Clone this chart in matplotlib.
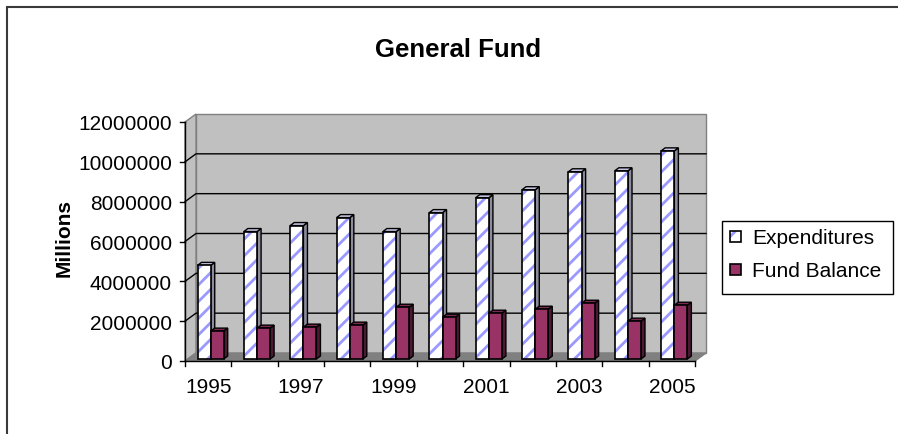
import matplotlib
matplotlib.use("Agg")
import matplotlib.pyplot as plt
from matplotlib.patches import Polygon, Rectangle
from matplotlib.lines import Line2D
from matplotlib.transforms import IdentityTransform, Affine2D

plt.rcParams['font.family'] = ['Liberation Sans', 'DejaVu Sans']
plt.rcParams['hatch.linewidth'] = 2.0

# dane wykresu
years = ['1995', '1996', '1997', '1998', '1999', '2000', '2001', '2002', '2003', '2004', '2005']
tick_labels = ['1995', '', '1997', '', '1999', '', '2001', '', '2003', '', '2005']
expenditures = [4700000, 6400000, 6700000, 7100000, 6400000, 7350000, 8100000, 8500000, 9400000, 9450000, 10450000]
fund_balance = [1400000, 1550000, 1600000, 1700000, 2600000, 2100000, 2300000, 2500000, 2800000, 1900000, 2700000]
y_ticks = [0, 2000000, 4000000, 6000000, 8000000, 10000000, 12000000]

W, H = 898, 435
fig = plt.figure(figsize=(W / 100, H / 100), dpi=100)
fig.patch.set_facecolor('white')
ax = fig.add_axes([185 / W, (H - 362) / H, 510 / W, 239 / H])
ax.set_autoscale_on(False)
ax.set_xlim(0, len(years))
ax.set_ylim(0, y_ticks[-1])
ax.axis('off')

WALL = (11, 8)  # przesuniecie tylnej sciany (piksele)
BAR = (4, 3)    # glebokosc slupka
LIFT = 2        # slupki stoja troche za przednia krawedzia podlogi

n = len(years)
top = y_ticks[-1]


def px(x, y, dx=0, dy=0):
    X, Y = ax.transData.transform((x, y))
    return (X + dx, Y + dy)


def shape(points, **kw):
    p = Polygon(points, closed=True, transform=IdentityTransform(), clip_on=False, **kw)
    ax.add_patch(p)
    return p


def line(points, **kw):
    xs, ys = zip(*points)
    ax.add_line(Line2D(xs, ys, transform=IdentityTransform(), clip_on=False, **kw))


# sciany i podloga
shape([px(0, 0, *WALL), px(n, 0, *WALL), px(n, top, *WALL), px(0, top, *WALL)],
      fc='#C0C0C0', ec='#808080', lw=1, zorder=1)
shape([px(0, 0), px(0, 0, *WALL), px(0, top, *WALL), px(0, top)],
      fc='#C0C0C0', ec='#808080', lw=1, zorder=1)
shape([px(0, 0), px(n, 0), px(n, 0, *WALL), px(0, 0, *WALL)],
      fc='#808080', ec='#808080', lw=1, zorder=1)
for v in y_ticks[1:-1]:
    line([px(0, v), px(0, v, *WALL), px(n, v, *WALL)], color='black', lw=1, zorder=2)

# osie
line([px(0, 0), px(0, top)], color='black', lw=1, zorder=3)
line([px(0, 0), px(n, 0)], color='black', lw=1, zorder=3)
for v in y_ticks:
    line([px(0, v, -5), px(0, v)], color='black', lw=1, zorder=3)
    X, Y = px(0, v, -13, -7.5)
    ax.text(X, Y, str(v), transform=IdentityTransform(), ha='right', va='baseline', fontsize=15)
for i in range(n + 1):
    line([px(i, 0), px(i, 0, 0, -5)], color='black', lw=1, zorder=3)
for i, lab in enumerate(tick_labels):
    X, Y = px(i + 0.5, 0, 0, -31)
    ax.text(X, Y, lab, transform=IdentityTransform(), ha='center', va='baseline', fontsize=15)

# slupki 3D: bok i gora jako wielokaty, przod przez ax.bar
lift = ax.transData + Affine2D().translate(0, LIFT)
series = [
    (expenditures, 0.27, 0.285, '#8C8C9C', '#C8C8E6', 10),
    (fund_balance, 0.555, 0.28, '#4D1A33', '#7A2952', 11),
]
for values, off, width, side_c, top_c, z in series:
    for i in range(n):
        x0 = i + off
        x1 = x0 + width
        v = values[i]
        L1 = px(x0, v, 0, LIFT)
        R0 = px(x1, 0, 0, LIFT)
        R1 = px(x1, v, 0, LIFT)
        d = lambda p: (p[0] + BAR[0], p[1] + BAR[1])
        shape([R0, d(R0), d(R1), R1], fc=side_c, ec='black', lw=1, zorder=z)
        shape([L1, R1, d(R1), d(L1)], fc=top_c, ec='black', lw=1, zorder=z)

xs_exp = [i + series[0][1] for i in range(n)]
xs_fund = [i + series[1][1] for i in range(n)]
ax.bar(xs_exp, expenditures, width=series[0][2], align='edge', transform=lift,
       color='white', edgecolor='#9999FF', linewidth=0, hatch='//', zorder=10.3)
ax.bar(xs_exp, expenditures, width=series[0][2], align='edge', transform=lift,
       color='none', edgecolor='black', linewidth=1.2, zorder=10.5)
ax.bar(xs_fund, fund_balance, width=series[1][2], align='edge', transform=lift,
       color='#993366', edgecolor='black', linewidth=1.2, zorder=11.5)


# legenda
def fig_rect(x, y, w, h, **kw):
    r = Rectangle((x / W, 1 - (y + h) / H), w / W, h / H, transform=fig.transFigure, **kw)
    fig.add_artist(r)
    return r


fig_rect(722, 222, 171, 73, fc='white', ec='black', lw=1)
fig_rect(730, 232, 11, 11, fc='white', ec='#9999FF', lw=0, hatch='//')
fig_rect(730, 232, 11, 11, fc='none', ec='black', lw=1.2)
fig_rect(730, 265, 11, 11, fc='#993366', ec='black', lw=1.2)
fig.text(752 / W, 1 - 244 / H, 'Expenditures', fontsize=15, va='baseline')
fig.text(752 / W, 1 - 277 / H, 'Fund Balance', fontsize=15, va='baseline')

# tytul i opis osi
fig.text(458 / W, 1 - 57 / H, 'General Fund', ha='center', va='baseline',
         fontsize=18.5, fontweight='bold')
fig.text(64 / W, 1 - 238 / H, 'Millions', rotation=90, ha='center', va='center',
         fontsize=15, fontweight='bold')

# ramka obszaru wykresu
fig_rect(7, 8, W + 20, H + 20, fill=False, ec='#3A3A3A', lw=1.5)

fig.savefig('out.png', dpi=100)
